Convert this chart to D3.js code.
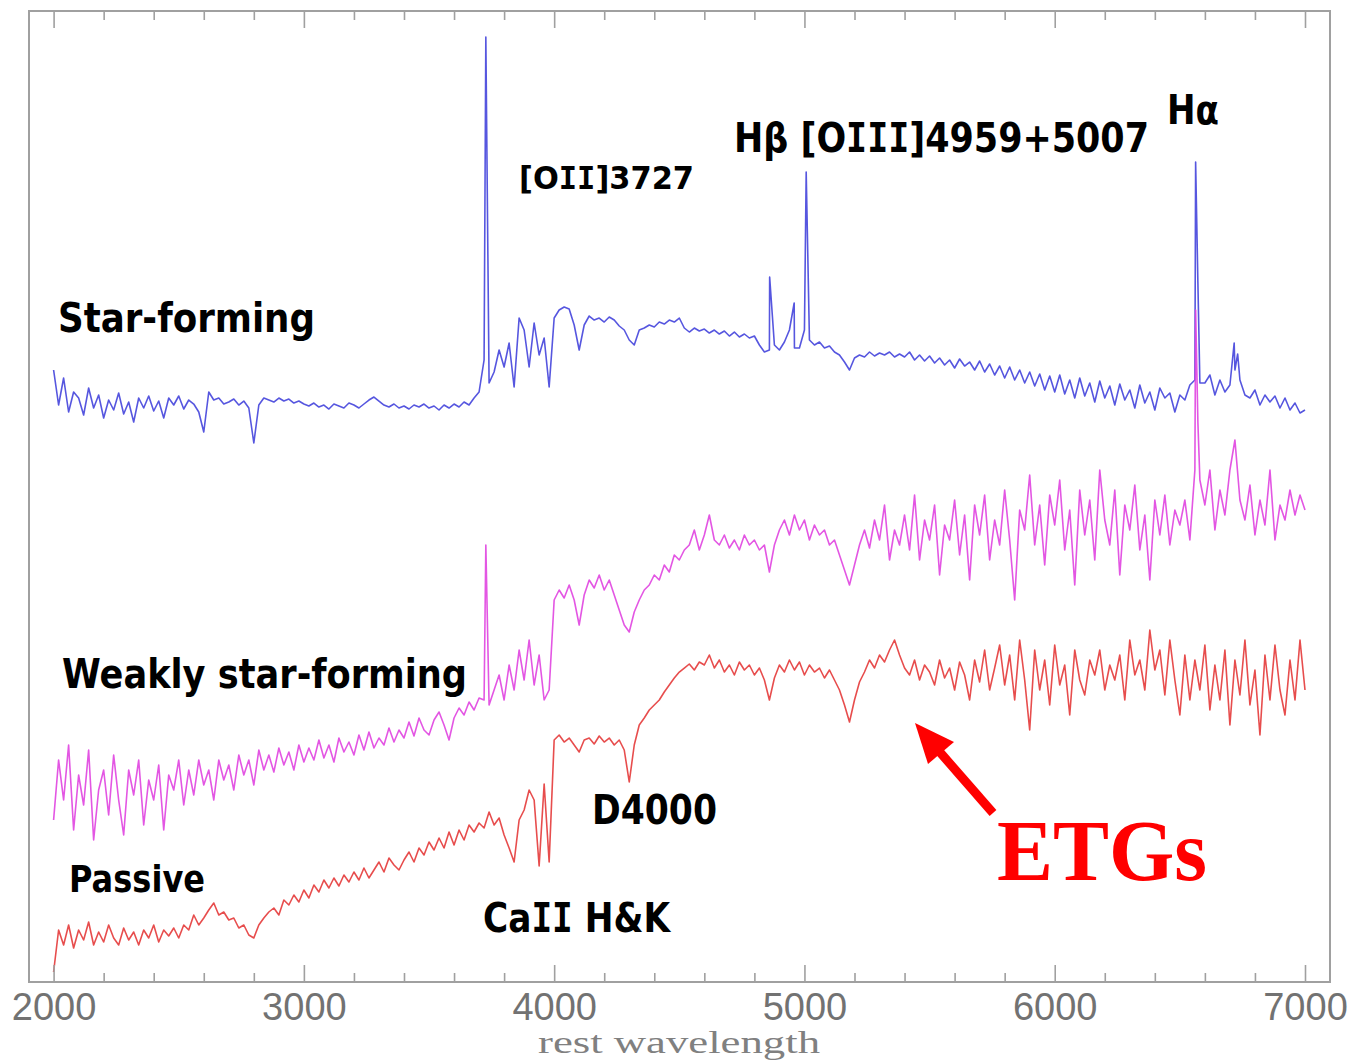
<!DOCTYPE html>
<html><head><meta charset="utf-8">
<script src="https://cdn.jsdelivr.net/npm/d3@7"></script>
<style>html,body{margin:0;padding:0;background:#fff;} svg{display:block;}</style>
</head><body>
<svg id="chart" width="1350" height="1062"></svg>
<script>
// ---------------- DATA ----------------
const waveStart = 2000, waveEnd = 7000, waveStep = 20;   // sampling grid of the spectra (Å)
const xTicksMajor = [2000, 3000, 4000, 5000, 6000, 7000];
const xTicksMinorStep = 200;

// Star-forming (blue) – relative flux, offset
const sfFlux = [
612,577,604,570,590,584,567,594,574,587,
564,582,572,589,568,580,560,584,574,586,
571,581,564,584,577,586,573,582,578,570,
550,590,582,584,578,580,583,577,581,574,
539,577,584,582,580,584,581,583,579,581,
578,576,579,575,577,573,578,576,574,579,
577,574,578,582,585,581,577,575,578,574,
576,573,577,575,578,574,576,572,577,574,
578,575,580,577,584,590,622,599,610,632,
615,639,595,664,652,615,659,627,644,595,
664,672,675,673,657,632,657,666,662,664,
660,665,662,656,652,642,637,652,654,657,
655,660,658,662,660,664,654,650,654,651,
653,649,652,648,651,646,650,645,648,644,
646,637,630,632,637,632,640,652,634,634,
652,642,637,640,634,636,630,627,620,612,
624,627,625,630,626,629,627,630,625,628,
625,630,622,627,621,626,619,624,617,622,
614,623,616,620,612,621,610,618,607,616,
604,615,602,612,599,610,596,608,592,606,
590,607,588,602,584,604,586,599,580,601,
584,596,577,598,582,592,574,597,579,590,
572,594,584,589,570,587,582,597,602,599,
599,607,587,602,590,597,612,602,587,584,
592,577,587,580,586,574,584,572,579,569,
572];
const sfLineWave = [3727, 4861, 4959, 5007, 6563, 6572, 6717, 6731];
const sfLineFlux = [945, 705, 679, 810, 820, 700, 639, 628];

// Weakly star-forming (magenta)
const wsfFlux = [
162,222,182,237,152,207,177,232,142,192,
212,167,227,182,147,212,187,222,157,202,
182,217,152,207,192,222,177,212,187,222,
197,212,182,222,202,217,192,227,207,222,
197,232,212,227,210,234,217,230,212,237,
220,234,222,242,224,237,220,244,230,240,
227,247,232,250,234,244,237,254,240,252,
244,260,246,264,252,247,262,270,257,242,
264,274,267,280,272,284,282,277,292,307,
282,317,292,332,302,342,297,327,282,292,
382,392,384,397,382,357,387,402,394,407,
392,402,387,372,357,350,370,382,392,397,
407,402,417,410,427,422,432,437,452,432,
447,467,442,437,447,434,442,432,447,437,
442,432,437,410,437,452,462,447,467,452,
462,442,457,447,452,437,442,427,412,397,
417,437,452,434,462,442,477,422,452,437,
467,432,487,422,462,442,477,407,457,442,
482,427,467,402,477,447,487,422,462,437,
492,442,382,472,452,507,437,477,417,487,
457,502,432,472,397,492,447,482,422,512,
462,437,492,407,477,452,497,432,467,402,
482,447,487,437,472,457,482,442,512,502,
477,512,452,492,467,512,542,482,462,497,
447,482,457,512,442,477,462,492,467,487,
472];
const wsfLineWave = [3727, 6563, 6572];
const wsfLineFlux = [437, 672, 560];

// Passive (red)
const pFlux = [
10,52,37,57,34,52,42,60,37,50,
40,57,44,37,54,42,50,37,52,44,
57,40,52,46,54,44,57,52,67,57,
64,72,79,67,70,62,64,54,57,47,
44,57,64,70,74,67,82,77,87,80,
92,84,97,90,102,94,104,96,107,100,
110,102,114,104,112,120,110,124,117,112,
122,130,120,134,127,140,132,144,134,150,
137,152,142,157,150,159,154,170,157,164,
147,134,120,162,172,192,182,116,198,120,
242,247,240,244,237,230,242,244,238,246,
240,244,237,242,232,200,237,257,264,272,
277,282,290,297,304,310,314,318,312,320,
317,327,314,322,310,317,307,320,312,317,
307,314,302,282,304,317,310,322,312,320,
307,317,310,314,304,312,302,292,277,260,
282,300,310,322,314,327,320,332,342,327,
314,307,322,302,317,310,297,322,304,314,
292,320,307,282,322,300,332,292,314,337,
297,327,282,342,302,252,332,292,322,277,
337,297,317,267,332,302,287,322,307,332,
292,317,302,327,282,342,307,322,292,352,
312,332,287,342,302,267,327,282,322,292,
337,272,317,282,332,257,322,287,342,277,
312,247,327,282,337,292,267,322,282,342,
292];

const seriesNames = ["Star-forming", "Weakly star-forming", "Passive"];

// ---------------- CHART ----------------
const svg = d3.select("#chart");
svg.append("rect").attr("width", 1350).attr("height", 1062).attr("fill", "#fff");

const plotLeft = 29, plotRight = 1330, plotTop = 11, plotBottom = 982;
const x = d3.scaleLinear().domain([2000, 7000]).range([53.6, 1305]);
const y = d3.scaleLinear().domain([0, 971]).range([plotBottom, plotTop]);

const wavelengths = d3.range(waveStart, waveEnd + 1, waveStep);
function points(flux, lw, lf) {
  const p = wavelengths.map((w, i) => [w, flux[i]]);
  (lw || []).forEach((w, i) => p.push([w, lf[i]]));
  p.sort((a, b) => a[0] - b[0]);
  return p;
}
const line = d3.line().x(d => x(d[0])).y(d => y(d[1]));

const series = [
  {name: seriesNames[0], pts: points(sfFlux, sfLineWave, sfLineFlux), color: "#4444dc"},
  {name: seriesNames[1], pts: points(wsfFlux, wsfLineWave, wsfLineFlux), color: "#e044e0"},
  {name: seriesNames[2], pts: points(pFlux), color: "#e43a3a"}
];

svg.append("g").selectAll("path").data(series).join("path")
  .attr("d", d => line(d.pts))
  .attr("fill", "none")
  .attr("stroke", d => d.color)
  .attr("stroke-width", 1.6)
  .attr("stroke-linejoin", "round")
  .attr("opacity", 0.9);

// frame
svg.append("rect").attr("x", plotLeft).attr("y", plotTop)
  .attr("width", plotRight - plotLeft).attr("height", plotBottom - plotTop)
  .attr("fill", "none").attr("stroke", "#a0a0a0").attr("stroke-width", 2);

const minorTicks = d3.range(2000, 7001, xTicksMinorStep).filter(v => !xTicksMajor.includes(v));

function styleAxis(g) {
  g.select(".domain").remove();
  g.selectAll(".tick line").attr("stroke", "#a0a0a0").attr("stroke-width", 1.6);
}
svg.append("g").attr("transform", `translate(0,${plotBottom})`)
  .call(d3.axisBottom(x).tickValues(xTicksMajor).tickSize(-17).tickPadding(11).tickFormat(d3.format("d")))
  .call(styleAxis)
  .call(g => g.selectAll("text").attr("font-family", "Liberation Sans, Arial, sans-serif")
     .attr("font-size", 38).attr("fill", "#727272"));
svg.append("g").attr("transform", `translate(0,${plotBottom})`)
  .call(d3.axisBottom(x).tickValues(minorTicks).tickSize(-9).tickFormat(""))
  .call(styleAxis);
svg.append("g").attr("transform", `translate(0,${plotTop})`)
  .call(d3.axisTop(x).tickValues(xTicksMajor).tickSize(-17).tickFormat(""))
  .call(styleAxis);
svg.append("g").attr("transform", `translate(0,${plotTop})`)
  .call(d3.axisTop(x).tickValues(minorTicks).tickSize(-9).tickFormat(""))
  .call(styleAxis);

svg.append("text").attr("x", 538).attr("y", 1053)
  .attr("font-family", "Liberation Serif, 'Times New Roman', serif")
  .attr("font-size", 32).attr("fill", "#808080")
  .attr("textLength", 282).attr("lengthAdjust", "spacingAndGlyphs")
  .text("rest wavelength");

// annotations
const labels = [
  {t: seriesNames[0], x: 58, y: 332, w: 257, s: 40},
  {t: "[OII]3727", x: 519, y: 189, w: 175, s: 32},
  {t: "Hβ [OIII]4959+5007", x: 734, y: 152, w: 415, s: 40},
  {t: "Hα", x: 1167, y: 124, w: 52, s: 40},
  {t: seriesNames[1], x: 62, y: 688, w: 405, s: 40},
  {t: seriesNames[2], x: 69, y: 892, w: 136, s: 38},
  {t: "D4000", x: 592, y: 824, w: 125, s: 40},
  {t: "CaII H&K", x: 483, y: 932, w: 187, s: 40}
];
const labelSel = svg.append("g").selectAll("text").data(labels).join("text")
  .attr("x", d => d.x).attr("y", d => d.y)
  .attr("font-family", "'DejaVu Sans', sans-serif")
  .attr("font-weight", "bold").attr("font-size", d => d.s).attr("fill", "#000")
  .attr("textLength", d => d.w).attr("lengthAdjust", "spacingAndGlyphs");
// capital I drawn with serifs (as in the original handwriting-style font)
labelSel.each(function(d) {
  const el = d3.select(this);
  d.t.split(/(I+)/).filter(s => s.length).forEach(seg => {
    const ts = el.append("tspan").text(seg);
    if (/^I+$/.test(seg)) ts.attr("font-family", "'DejaVu Sans Mono', monospace");
  });
});

// ETGs arrow + label
svg.append("line").attr("x1", 993).attr("y1", 813).attr("x2", 938).attr("y2", 750)
  .attr("stroke", "#f00").attr("stroke-width", 9);
svg.append("polygon").attr("points", "915,723 954,742 928,764").attr("fill", "#f00");
svg.append("text").attr("x", 997).attr("y", 880)
  .attr("font-family", "Liberation Serif, 'Times New Roman', serif")
  .attr("font-weight", "bold").attr("font-size", 86).attr("fill", "#f00")
  .attr("textLength", 210).attr("lengthAdjust", "spacingAndGlyphs")
  .text("ETGs");
</script>
</body></html>
